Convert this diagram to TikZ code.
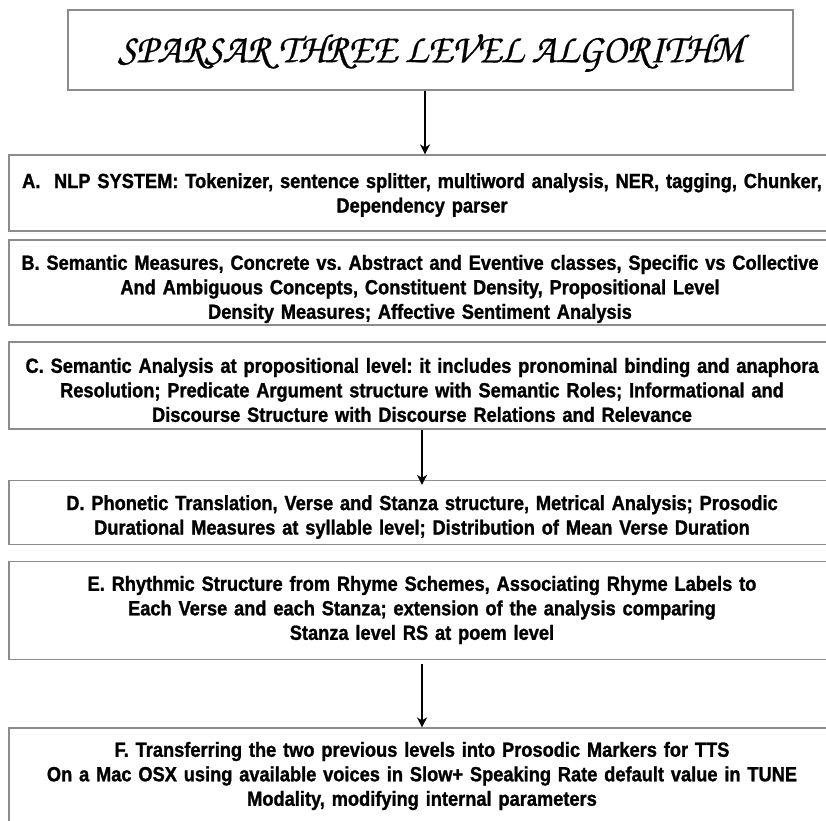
\documentclass[tikz,border=0pt]{standalone}
\usepackage{fontspec}
\usetikzlibrary{arrows.meta}
\setmainfont{Liberation Sans}
\newfontfamily\narrowbold[FakeStretch=0.89,FakeBold=1.2]{Liberation Sans Bold}
\newfontfamily\titlefont[FakeStretch=0.95,FakeBold=0.6]{TeX Gyre Chorus}
\definecolor{boxline}{HTML}{8C8C8C}
\tikzset{
  stagebox/.style={draw=boxline, line width=1.2pt, minimum width=826pt},
  stagetext/.style={text width=822pt, align=center, inner sep=0pt,
    font=\frenchspacing\narrowbold\fontsize{20.5}{24.5}\selectfont},
  titlebox/.style={draw=boxline, line width=1.2pt, minimum width=725pt, minimum height=80pt,
    inner sep=0pt},
  flowarrow/.style={line width=1.7pt, -{Stealth[length=10pt,width=10pt,inset=3pt]}}
}
\begin{document}
\begin{tikzpicture}[x=1pt,y=-1pt]
\useasboundingbox (0,0) rectangle (826,820);
\node[titlebox] (title) at (430.5,50) {};
\node (titletext) at (430.5,53) [font=\titlefont\fontsize{41}{44}\selectfont] {SPARSAR THREE LEVEL ALGORITHM};
\node[stagebox, minimum height=76pt] (A) at (422,193) {};
\node[stagetext] (Atext) at (422,195) {A.\ \ NLP SYSTEM: Tokenizer, sentence splitter, multiword analysis, NER, tagging, Chunker,\\ Dependency parser};
\node[stagebox, minimum height=85pt] (B) at (422,282.5) {};
\node[stagetext] (Btext) at (420,289) {B. Semantic Measures, Concrete vs. Abstract and Eventive classes, Specific vs Collective\\ And Ambiguous Concepts, Constituent Density, Propositional Level\\ Density Measures; Affective Sentiment Analysis};
\node[stagebox, minimum height=87pt] (C) at (422,385.5) {};
\node[stagetext] (Ctext) at (422,390) {C. Semantic Analysis at propositional level: it includes pronominal binding and anaphora\\ Resolution; Predicate Argument structure with Semantic Roles; Informational and\\ Discourse Structure with Discourse Relations and Relevance};
\node[stagebox, minimum height=64pt] (D) at (422,512.5) {};
\node[stagetext] (Dtext) at (422,517) {D. Phonetic Translation, Verse and Stanza structure, Metrical Analysis; Prosodic\\ Durational Measures at syllable level; Distribution of Mean Verse Duration};
\node[stagebox, minimum height=98pt] (E) at (422,610.5) {};
\node[stagetext] (Etext) at (422,610) {E. Rhythmic Structure from Rhyme Schemes, Associating Rhyme Labels to\\ Each Verse and each Stanza; extension of the analysis comparing\\ Stanza level RS at poem level};
\node[stagebox, minimum height=106pt] (F) at (422,781) {};
\node[stagetext] (Ftext) at (422,776) {F. Transferring the two previous levels into Prosodic Markers for TTS\\ On a Mac OSX using available voices in Slow+ Speaking Rate default value in TUNE\\ Modality, modifying internal parameters};
\draw[flowarrow] (title.south -| 425,0) -- (A.north -| 425,0);
\draw[flowarrow] (C.south -| 422,0) -- ([yshift=-5pt]D.north -| 422,0);
\draw[flowarrow, shorten <=4pt] (E.south -| 422,0) -- (F.north -| 422,0);
\end{tikzpicture}
\end{document}
